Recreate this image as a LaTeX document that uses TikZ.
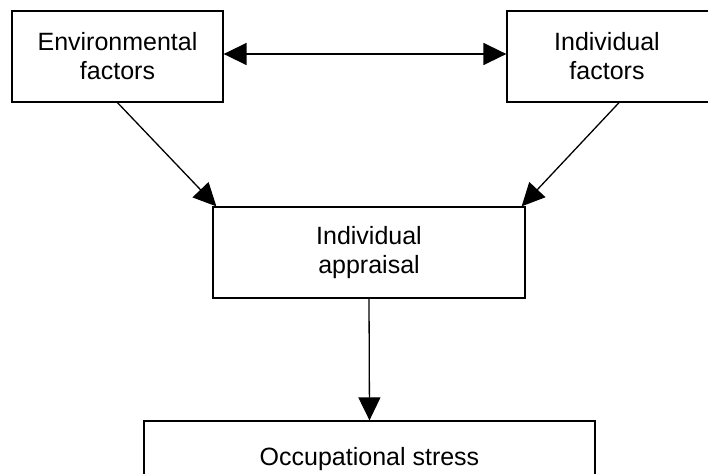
\documentclass[tikz,border=0pt]{standalone}
\usepackage{fontspec}
\setmainfont{Liberation Sans}
\usetikzlibrary{arrows.meta}
\begin{document}
\begin{tikzpicture}[x=1pt,y=-1pt,
  box/.style={draw=black, line width=1.3pt, rectangle, inner sep=0pt,
    align=center, font=\fontsize{25}{29}\selectfont},
  link/.style={line width=1.3pt, -{Triangle[length=23pt,width=22pt]}},
  both/.style={line width=1.6pt, {Triangle[length=23pt,width=22pt]}-{Triangle[length=23pt,width=22pt]}}]
  \useasboundingbox (0,0) rectangle (708,473);
  \clip (0,0) rectangle (708,473);
  % factor boxes
  \node[box, minimum width=211pt, minimum height=91pt] (env) at (117.5,56.5) {Environmental\\factors};
  \node[box, minimum width=205pt, minimum height=91pt, text width=205pt] (ind) at (609.5,56.5) {\hspace*{-5pt}Individual\\\hspace*{-5pt}factors};
  % appraisal and outcome
  \node[box, minimum width=312pt, minimum height=91pt] (app) at (369,252.5) {Individual\\appraisal};
  \node[box, minimum width=451pt, minimum height=77pt] (occ) at (369.5,459.5) {Occupational stress};
  % connectors
  \draw[both] ([yshift=2.5pt]env.east) -- ([yshift=2.5pt]ind.west);
  \draw[link] (env.south) -- ([xshift=4pt]app.north west);
  \draw[link] ([xshift=9.5pt]ind.south) -- ([xshift=-4pt]app.north east);
  \draw[link] (app.south) -- (occ.north);
\end{tikzpicture}
\end{document}
